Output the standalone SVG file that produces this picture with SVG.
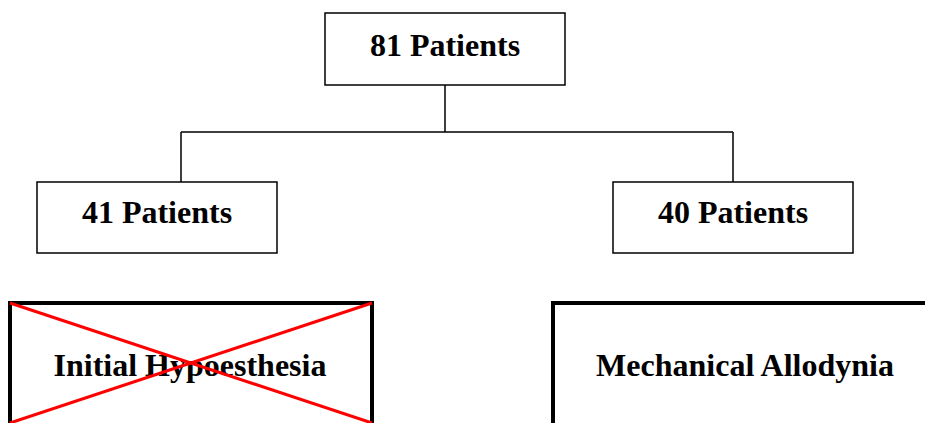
<svg xmlns="http://www.w3.org/2000/svg" width="925" height="423" viewBox="0 0 925 423">
<style>
.box{fill:#fff;stroke:#000;stroke-width:1.5}
.big{fill:#fff;stroke:#000;stroke-width:4}
.t{font-family:"Liberation Serif","Times New Roman",serif;font-weight:bold;font-size:32px;text-anchor:middle;fill:#000}
.c{fill:none;stroke:#000;stroke-width:1.5}
.x{stroke:#f00;stroke-width:3}
</style>
<rect width="925" height="423" fill="#fff"/>
<g id="connectors">
<path class="c" d="M445 85 V132 M181 132 H733 M181 132 V182 M733 132 V182"/>
</g>
<g id="n81"><rect class="box" x="325" y="13" width="240" height="72"/><text class="t" x="445" y="56">81 Patients</text></g>
<g id="n41"><rect class="box" x="37" y="182" width="240" height="71"/><text class="t" x="157" y="223">41 Patients</text></g>
<g id="n40"><rect class="box" x="613" y="182" width="240" height="71"/><text class="t" x="733" y="223">40 Patients</text></g>
<g id="hypo"><rect class="big" x="10" y="303" width="362" height="140"/><text class="t" x="190" y="376">Initial Hypoesthesia</text>
<line class="x" x1="10" y1="303" x2="372" y2="423"/><line class="x" x1="10" y1="423" x2="372" y2="303"/></g>
<g id="allo"><rect class="big" x="553" y="303" width="400" height="140"/><text class="t" x="745" y="376">Mechanical Allodynia</text></g>
</svg>
